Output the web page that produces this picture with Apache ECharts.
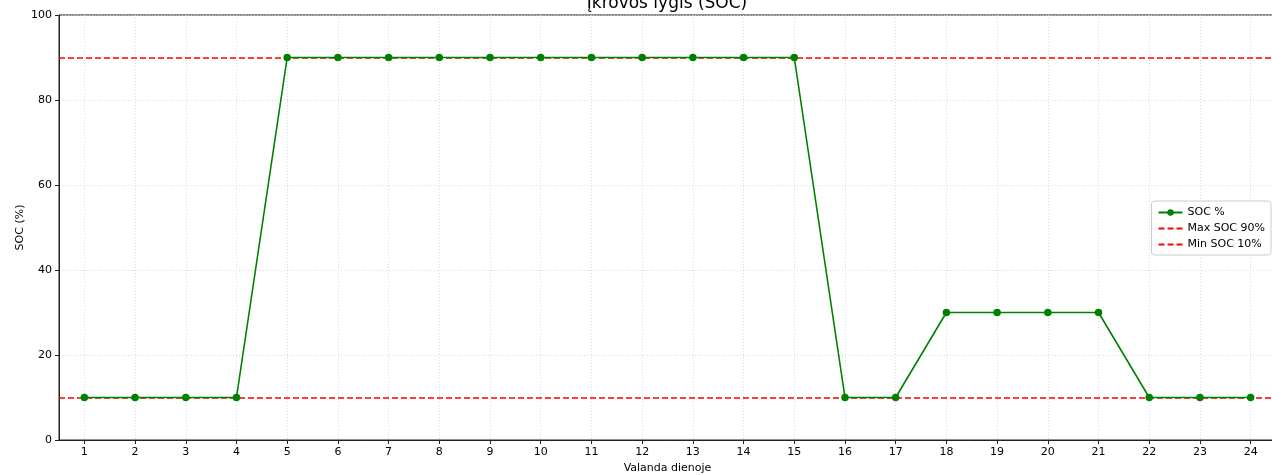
<!DOCTYPE html>
<html><head><meta charset="utf-8">
<script src="https://cdn.jsdelivr.net/npm/echarts@6/dist/echarts.min.js"></script>
<style>html,body{margin:0;padding:0;background:#fff}#c{width:1272px;height:475px}</style>
</head><body><div id="c"></div>
<script>
const hours = [1,2,3,4,5,6,7,8,9,10,11,12,13,14,15,16,17,18,19,20,21,22,23,24];
const socValues = [10,10,10,10,90,90,90,90,90,90,90,90,90,90,90,10,10,30,30,30,30,10,10,10];
const maxSoc = 90;
const minSoc = 10;

const font = 'DejaVu Sans';
const chart = echarts.init(document.getElementById('c'), null, {renderer:'canvas'});
chart.setOption({
  animation:false,
  textStyle:{fontFamily:font},
  title:{text:'Įkrovos lygis (SOC)', left:667, textAlign:'center', top:-5, padding:0,
    textStyle:{fontFamily:font, fontSize:17, fontWeight:'normal', color:'#000'}},
  grid:{left:59, width:1217, top:15, height:425, outerBoundsMode:'none', containLabel:false,
    show:true, borderColor:'#222', borderWidth:1, backgroundColor:'transparent'},
  legend:{orient:'vertical', right:1, top:201, itemWidth:24, itemHeight:8, itemGap:5,
    padding:[6,6,5,6], borderColor:'#ccc', borderWidth:1, borderRadius:3, backgroundColor:'#fff',
    textStyle:{fontFamily:font, fontSize:11, color:'#000'},
    data:['SOC %','Max SOC 90%','Min SOC 10%']},
  xAxis:{type:'value', min:0.5, max:24.5,
    name:'Valanda dienoje', nameLocation:'middle', nameGap:23, nameMoveOverlap:false,
    nameTextStyle:{fontFamily:font, fontSize:11, color:'#000'},
    axisLine:{show:true, lineStyle:{color:'#222', width:1}},
    axisTick:{show:true, length:4, customValues:hours, lineStyle:{color:'#222'}},
    axisLabel:{customValues:hours, fontFamily:font, fontSize:11, color:'#000', margin:7},
    splitLine:{show:true, lineStyle:{color:'#d0d0d0', type:[1,2], width:0.8}}},
  yAxis:{type:'value', min:0, max:100, interval:20,
    name:'SOC (%)', nameLocation:'middle', nameGap:33, nameMoveOverlap:false,
    nameTextStyle:{fontFamily:font, fontSize:11, color:'#000'},
    axisLine:{show:true, lineStyle:{color:'#222', width:1}},
    axisTick:{show:true, length:4, lineStyle:{color:'#222'}},
    axisLabel:{fontFamily:font, fontSize:11, color:'#000', margin:7},
    splitLine:{show:true, lineStyle:{color:'#d0d0d0', type:[1,2], width:0.8}}},
  series:[
    {name:'Max SOC 90%', type:'line', data:[], symbol:'none',
      itemStyle:{color:'rgba(0,0,0,0)'},
      lineStyle:{color:'#ff0000', type:[6,3], width:1.5},
      markLine:{silent:true, symbol:'none', label:{show:false},
        lineStyle:{color:'#ff0000', type:[6,3], width:1.5}, data:[{yAxis:maxSoc}]}},
    {name:'Min SOC 10%', type:'line', data:[], symbol:'none',
      itemStyle:{color:'rgba(0,0,0,0)'},
      lineStyle:{color:'#ff0000', type:[6,3], width:1.5},
      markLine:{silent:true, symbol:'none', label:{show:false},
        lineStyle:{color:'#ff0000', type:[6,3], width:1.5}, data:[{yAxis:minSoc}]}},
    {name:'SOC %', type:'line', data:hours.map((h,i)=>[h,socValues[i]]), z:5,
      color:'#008000', symbol:'circle', symbolSize:7.5, showSymbol:true,
      lineStyle:{color:'#008000', width:1.6}, itemStyle:{color:'#008000'}}
  ]
});
</script></body></html>
